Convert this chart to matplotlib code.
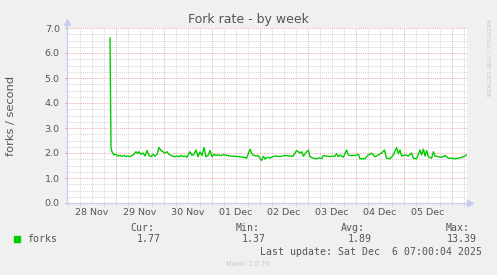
"""Munin style chart: Fork rate - by week."""

import matplotlib

matplotlib.use("Agg")
import matplotlib.pyplot as plt
from matplotlib.ticker import MultipleLocator, FixedLocator, NullFormatter

# ------------------------------------------------------------------
# data (hours since 29 Nov 00:00, forks / second)
# ------------------------------------------------------------------
hours = [
    -3.0, -2.5, -2.0, -1.0, 0.0, 1.0, 2.0, 3.0, 4.0, 5.0, 6.0, 7.0, 8.0,
    9.0, 10.0, 10.75, 11.5, 12.5, 13.5, 14.5, 15.5, 16.5, 17.5, 18.5, 19.5,
    20.5, 21.5, 22.5, 23.5, 24.5, 25.5, 26.5, 27.5, 28.5, 29.5, 30.5, 31.5,
    32.5, 33.5, 34.5, 35.5, 37.0, 38.0, 39.0, 40.0, 41.0, 42.0, 43.0, 44.0,
    45.0, 46.0, 47.0, 48.0, 49.0, 50.0, 51.0, 52.0, 53.0, 54.0, 57.0, 59.5,
    62.0, 64.5, 65.3, 67.0, 67.8, 68.5, 70.0, 71.0, 72.0, 72.8, 73.7, 74.5,
    75.5, 77.0, 78.0, 79.5, 82.0, 84.5, 87.0, 88.5, 90.3, 92.0, 92.8, 93.7,
    95.3, 96.2, 97.0, 98.5, 100.0, 101.5, 103.0, 103.7, 105.0, 107.0, 109.5,
    110.3, 111.2, 112.0, 113.7, 115.3, 116.2, 117.0, 119.5, 121.2, 122.0,
    124.5, 125.3, 126.2, 127.8, 129.5, 131.2, 132.8, 134.2, 135.3, 137.0,
    138.7, 140.3, 141.2, 142.0, 142.8, 144.5, 146.2, 147.8, 148.7, 150.3,
    152.0, 152.8, 153.7, 154.5, 155.3, 156.2, 157.8, 158.7, 159.5, 161.2,
    162.8, 164.5, 166.2, 167.8, 169.5, 171.2, 172.8, 173.7, 175.3,
]
forks = [
    6.60, 2.20, 2.05, 1.92, 1.95, 1.88, 1.90, 1.87, 1.90, 1.86, 1.88, 1.85,
    1.90, 1.95, 2.05, 1.98, 2.05, 1.95, 2.00, 1.88, 2.10, 1.90, 1.85, 1.95,
    1.87, 1.95, 2.22, 2.10, 2.05, 2.00, 2.05, 1.95, 1.90, 1.87, 1.85, 1.88,
    1.85, 1.90, 1.86, 1.88, 1.83, 2.05, 1.90, 1.95, 2.12, 1.85, 2.05, 1.90,
    2.22, 1.85, 1.90, 2.10, 1.85, 1.95, 1.90, 1.93, 1.90, 1.92, 1.93, 1.88,
    1.87, 1.85, 1.82, 1.79, 2.15, 2.00, 1.92, 1.88, 1.90, 1.79, 1.70, 1.87,
    1.76, 1.83, 1.80, 1.84, 1.88, 1.86, 1.90, 1.88, 1.87, 2.10, 2.00, 2.05,
    1.87, 2.05, 2.12, 1.85, 1.80, 1.77, 1.80, 1.78, 1.90, 1.88, 1.86, 1.88,
    1.97, 1.85, 1.92, 1.83, 2.12, 1.92, 1.90, 1.90, 1.95, 1.77, 1.77, 1.85,
    1.92, 1.99, 1.85, 1.92, 2.00, 2.12, 1.79, 1.77, 1.92, 2.22, 1.97, 2.12,
    1.88, 1.92, 1.88, 2.00, 1.79, 1.77, 2.12, 1.92, 2.15, 1.88, 2.10, 1.85,
    1.79, 2.05, 1.88, 1.85, 1.83, 1.90, 1.79, 1.79, 1.77, 1.79, 1.83, 1.85,
    1.92,
]

day_labels = ["28 Nov", "29 Nov", "30 Nov", "01 Dec", "02 Dec", "03 Dec",
              "04 Dec", "05 Dec"]
y_values = [0, 1, 2, 3, 4, 5, 6, 7]
y_labels = ["0.0", "1.0", "2.0", "3.0", "4.0", "5.0", "6.0", "7.0"]

legend_name = "forks"
stat_names = ["Cur:", "Min:", "Avg:", "Max:"]
stat_values = ["1.77", "1.37", "1.89", "13.39"]
last_update = "Last update: Sat Dec  6 07:00:04 2025"

# ------------------------------------------------------------------
# style
# ------------------------------------------------------------------
W, H = 497, 275
BACK = "#F0F0F0"
FONT = "#555555"
AXIS = "#C8CCF0"
MINOR = "#D4D4D4"
MAJOR = "#F2A8A8"
LINE = "#00CC00"
MONO = "DejaVu Sans Mono"

X0, X1 = -24.5, 175.5
Y0, Y1 = 0.0, 7.0


def fx(px):
    return px / W


def fy(py):
    return 1 - py / H


fig = plt.figure(figsize=(W / 100, H / 100), dpi=100, facecolor=BACK)
ax = fig.add_axes([fx(67), fy(203), (467 - 67) / W, (203 - 28) / H])
ax.set_facecolor("white")
ax.set_xlim(X0, X1)
ax.set_ylim(Y0, Y1)

# grid: minor grey, major light red (days / integers)
dot = (0, (1, 1))
for t in range(-24, 176, 6):
    if t % 24:
        ax.axvline(t, color=MINOR, lw=0.7, ls=dot, zorder=1)
for v in [i * 0.25 for i in range(1, 29)]:
    if v % 1:
        ax.axhline(v, color=MINOR, lw=0.7, ls=dot, zorder=1)
for t in range(0, 176, 24):
    ax.axvline(t, color=MAJOR, lw=0.7, ls=dot, zorder=2)
for v in range(1, 8):
    ax.axhline(v, color=MAJOR, lw=0.7, ls=dot, zorder=2)

ax.plot(hours, forks, color=LINE, lw=1.0, zorder=3)

# ticks
ax.xaxis.set_major_locator(FixedLocator([-12 + 24 * i for i in range(len(day_labels))]))
ax.set_xticklabels(day_labels)
ax.xaxis.set_minor_locator(MultipleLocator(6))
ax.xaxis.set_minor_formatter(NullFormatter())
ax.yaxis.set_major_locator(FixedLocator(y_values))
ax.set_yticklabels(y_labels)
ax.yaxis.set_minor_locator(MultipleLocator(0.25))
ax.yaxis.set_minor_formatter(NullFormatter())
ax.tick_params(axis="x", which="major", length=0, pad=3.5,
               labelsize=6.8, labelcolor=FONT)
ax.tick_params(axis="x", which="minor", length=1.8, color=MINOR)
ax.tick_params(axis="y", which="major", length=1.8, pad=3.4, color="#AAAAAA",
               labelsize=6.8, labelcolor=FONT)
ax.tick_params(axis="y", which="minor", length=0)

for s in ("top", "right"):
    ax.spines[s].set_visible(False)
for s in ("left", "bottom"):
    ax.spines[s].set_color(AXIS)
    ax.spines[s].set_linewidth(0.9)
    ax.spines[s].set_zorder(4)

# axis arrows
ax.plot([0, 0], [1, 1.035], color=AXIS, lw=0.9, transform=ax.transAxes, clip_on=False)
ax.plot([0], [1.035], marker="^", ms=4, color=AXIS, transform=ax.transAxes,
        clip_on=False)
ax.plot([1, 1.0075], [0, 0], color=AXIS, lw=0.9, transform=ax.transAxes, clip_on=False)
ax.plot([1.0075], [0], marker=">", ms=4, color=AXIS, transform=ax.transAxes,
        clip_on=False)

# titles
fig.text(fx(248), fy(19), "Fork rate - by week", ha="center", va="center",
         fontsize=9.0, color=FONT)
fig.text(fx(11), fy(116), "forks / second", ha="center", va="center",
         rotation=90, fontsize=8.2, color=FONT)
fig.text(fx(487.5), fy(58), "RRDTOOL / TOBI OETIKER", ha="center", va="center",
         rotation=270, fontsize=4.3, color="#C8C8C8")

# legend block
fig.patches.append(plt.Rectangle((fx(14), fy(242)), 6 / W, 6 / H,
                                 transform=fig.transFigure, color=LINE))
fig.text(fx(27), fy(239.5), legend_name, ha="left", va="center",
         family=MONO, fontsize=7.1, color=FONT)
name_right = [154, 260, 365, 470]
value_right = [161, 266, 372, 477]
for name, val, xn, xv in zip(stat_names, stat_values, name_right, value_right):
    fig.text(fx(xn), fy(228), name, ha="right", va="center",
             family=MONO, fontsize=7.1, color=FONT)
    fig.text(fx(xv), fy(239.5), val, ha="right", va="center",
             family=MONO, fontsize=7.1, color=FONT)
fig.text(fx(482), fy(251.7), last_update, ha="right", va="center",
         family=MONO, fontsize=7.1, color=FONT)
fig.text(fx(248), fy(264), "Munin 2.0.76", ha="center", va="center",
         fontsize=4.8, color="#C8C8C8")

fig.savefig("out.png", dpi=100, facecolor=BACK)
